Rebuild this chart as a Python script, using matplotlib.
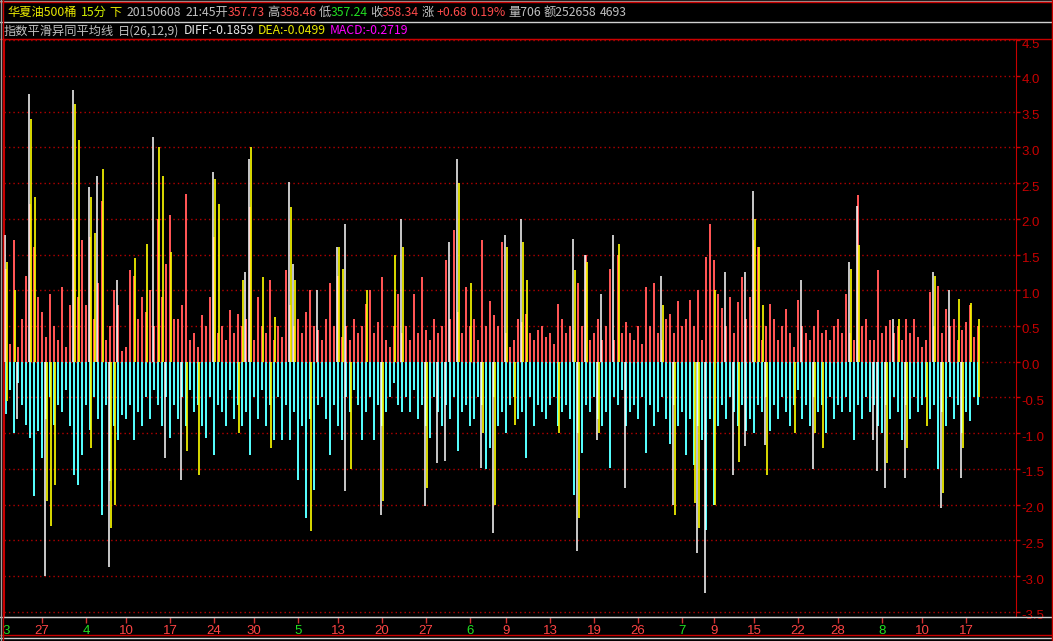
import numpy as np
import matplotlib
matplotlib.use("Agg")
import matplotlib.pyplot as plt
from matplotlib.lines import Line2D
from matplotlib.transforms import IdentityTransform, ScaledTranslation

# MACD histogram, one bar per slot (positive part red, negative part cyan)
red = [
    1.3, 0.25, 1.7, 0.2, 0.6, 1.2, 2.2, 1.6, 0.9, 0.7,
    0.35, 0.95, 0.5, 0.3, 1.05, 0.2, 0.8, 2.0, 0.9, 1.7,
    0.8, 1.75, 0.6, 1.1, 2.25, 0.3, 0.5, 1.0, 0.8, 0.15,
    0.2, 1.28, 1.2, 0.6, 0.9, 0.7, 1.0, 0.5, 2.0, 0.9,
    1.37, 2.05, 0.6, 0.6, 0.8, 2.35, 0.3, 0.4, 0.2, 0.65,
    0.5, 0.9, 1.75, 0.4, 0.5, 0.3, 0.72, 0.4, 0.67, 0.5,
    0.6, 2.17, 0.3, 0.9, 0.5, 0.4, 1.14, 0.3, 0.5, 0.35,
    1.28, 0.8, 0.5, 0.6, 0.4, 0.7, 1.0, 0.5, 0.45, 0.3,
    0.6, 1.1, 0.5, 1.2, 0.35, 0.5, 0.3, 0.6, 0.4, 0.5,
    0.81, 1.0, 0.4, 0.55, 1.18, 0.3, 0.2, 0.5, 0.95, 0.4,
    0.5, 0.3, 0.95, 0.4, 1.18, 0.45, 0.3, 0.6, 0.4, 0.5,
    1.42, 0.6, 1.84, 0.7, 0.4, 1.04, 0.5, 0.6, 0.3, 1.7,
    0.5, 0.85, 0.65, 0.5, 1.68, 0.4, 0.2, 0.3, 0.6, 0.55,
    0.67, 0.4, 0.3, 0.45, 0.5, 0.35, 0.4, 0.25, 0.81, 0.6,
    0.4, 0.5, 0.45, 1.1, 0.5, 1.5, 0.3, 0.4, 0.6, 0.3,
    0.5, 1.3, 0.3, 1.5, 0.4, 0.55, 0.4, 0.3, 0.5, 0.25,
    1.04, 0.5, 1.1, 0.4, 0.3, 0.6, 0.67, 0.4, 0.85, 0.5,
    0.6, 0.87, 0.5, 1.0, 0.3, 1.47, 1.93, 1.42, 0.95, 0.75,
    0.5, 0.9, 0.4, 0.83, 1.18, 0.6, 0.9, 1.7, 1.6, 0.3,
    0.5, 0.81, 0.6, 0.3, 0.5, 0.74, 0.4, 0.2, 0.87, 0.5,
    0.4, 0.3, 0.5, 0.72, 0.4, 0.45, 0.3, 0.5, 0.6, 0.4,
    0.95, 0.4, 0.3, 2.33, 0.5, 0.6, 0.3, 0.3, 1.29, 0.4,
    0.5, 0.58, 0.4, 0.5, 0.3, 0.6, 0.4, 0.6, 0.35, 0.2,
    0.3, 0.97, 0.5, 1.06, 0.4, 0.74, 0.5, 0.6, 0.3, 0.45,
    0.56, 0.8, 0.35, 0.5,
]
cyan = [
    -0.73, -0.4, -1.0, -0.3, -0.6, -0.88, -1.06, -1.88, -0.97, -1.34,
    -0.8, -0.5, -0.88, -0.6, -0.7, -0.4, -0.9, -1.58, -1.72, -1.3,
    -0.6, -0.95, -0.5, -0.8, -2.14, -0.6, -1.67, -0.9, -1.1, -0.75,
    -0.8, -0.6, -1.1, -0.7, -0.9, -0.5, -0.8, -0.4, -0.6, -0.9,
    -0.5, -1.06, -0.6, -0.8, -0.5, -0.9, -0.4, -0.7, -0.6, -0.9,
    -1.06, -0.5, -1.3, -0.6, -0.7, -0.9, -0.4, -0.8, -0.6, -0.9,
    -0.7, -1.3, -0.5, -0.8, -0.4, -0.9, -0.6, -1.1, -0.5, -1.1,
    -0.6, -1.1, -0.7, -1.65, -0.9, -2.19, -0.8, -1.8, -0.6, -0.5,
    -0.8, -1.3, -0.6, -0.9, -1.1, -0.5, -0.7, -0.4, -0.6, -1.1,
    -0.7, -0.5, -1.1, -0.6, -0.9, -0.7, -0.5, -0.3, -0.6, -0.7,
    -0.5, -0.7, -0.4, -0.8, -0.6, -0.9, -1.06, -0.5, -0.7, -0.9,
    -0.6, -0.8, -0.5, -1.25, -0.7, -0.6, -0.9, -0.8, -0.5, -0.6,
    -1.5, -1.2, -0.5, -0.9, -0.7, -1.0, -0.6, -0.5, -0.8, -0.7,
    -1.34, -0.5, -0.9, -0.6, -0.7, -0.8, -0.6, -0.5, -0.9, -0.7,
    -0.6, -0.8, -1.86, -1.0, -1.27, -0.6, -0.7, -0.5, -0.8, -0.9,
    -0.7, -1.48, -0.5, -0.6, -0.4, -0.9, -0.7, -0.6, -0.8, -0.5,
    -1.27, -0.6, -0.9, -0.7, -0.5, -0.8, -1.15, -0.6, -0.9, -0.7,
    -1.3, -0.8, -1.44, -0.9, -1.1, -2.35, -0.8, -2.0, -0.9, -0.6,
    -0.8, -0.5, -0.7, -0.9, -0.6, -0.97, -0.8, -1.0, -0.6, -0.7,
    -0.5, -0.97, -0.6, -0.8, -0.5, -0.7, -0.9, -0.6, -0.4, -0.8,
    -0.6, -0.9, -0.5, -0.7, -0.6, -1.0, -0.5, -0.8, -0.6, -0.7,
    -0.5, -0.7, -1.1, -0.6, -0.8, -0.5, -0.7, -0.6, -0.9, -1.0,
    -0.6, -0.8, -0.5, -0.7, -1.1, -0.6, -0.8, -0.5, -0.7, -0.6,
    -0.5, -0.8, -0.6, -1.5, -0.7, -0.9, -0.5, -0.8, -0.6, -1.0,
    -0.7, -0.83, -0.5, -0.6,
]

# DEA (yellow) and DIFF (white) strokes: slot index and value
dea_up_idx = [0, 2, 6, 7, 17, 18, 21, 22, 24, 32, 35, 38, 39, 41, 52, 53, 59, 61, 64, 67,
              71, 72, 83, 84, 90, 97, 99, 113, 116, 125, 129, 130, 142, 145, 153, 164, 177,
              187, 188, 189, 211, 213, 223, 232, 238, 241, 243]
dea_up_val = [1.4, 1.0, 3.4, 2.3, 3.6, 3.1, 2.3, 1.8, 2.7, 1.45, 1.65, 3.0, 2.6, 1.54, 2.55,
              2.2, 1.14, 3.0, 1.18, 0.62, 2.17, 1.14, 1.6, 1.3, 1.0, 1.5, 1.6, 2.5, 1.1, 1.6,
              1.68, 1.14, 1.28, 1.4, 1.65, 0.8, 1.0, 2.0, 1.6, 0.8, 1.3, 1.63, 0.6, 1.2, 0.88,
              0.82, 0.6]
dea_dn_idx = [0, 10, 11, 12, 21, 26, 27, 45, 48, 58, 66, 76, 86, 94, 105, 119, 122, 127, 138,
              143, 148, 167, 172, 173, 177, 183, 190, 197, 202, 204, 220, 225, 230, 234, 239, 243]
dea_dn_val = [-0.55, -1.95, -2.3, -1.72, -1.2, -2.33, -2.0, -1.25, -1.58, -1.0, -1.2, -2.37,
              -1.5, -1.95, -1.77, -1.0, -2.0, -0.88, -1.0, -2.19, -1.0, -2.14, -1.98, -2.33,
              -2.0, -1.4, -1.58, -1.0, -1.0, -1.2, -1.41, -1.2, -0.9, -1.84, -1.2, -0.5]
diff_up_idx = [0, 6, 17, 21, 23, 28, 37, 52, 60, 61, 71, 72, 78, 83, 85, 99, 111, 113, 125,
               129, 142, 145, 149, 152, 164, 180, 185, 187, 199, 211, 213, 222, 232, 236]
diff_up_val = [1.77, 3.75, 3.8, 2.45, 2.6, 1.14, 3.15, 2.65, 1.25, 2.84, 2.52, 1.37, 1.0, 1.6,
               1.93, 2.0, 1.68, 2.84, 1.77, 2.0, 1.72, 1.5, 0.95, 1.77, 1.2, 1.25, 1.25, 2.39,
               1.15, 1.4, 2.18, 0.6, 1.26, 1.0]
diff_dn_idx = [3, 10, 26, 40, 44, 85, 94, 105, 108, 110, 119, 122, 143, 148, 155, 167, 173,
               175, 182, 185, 190, 202, 217, 218, 220, 225, 234, 239]
diff_dn_val = [-0.8, -3.0, -2.87, -1.34, -1.65, -1.81, -2.14, -2.02, -1.41, -1.39, -1.48, -2.4,
               -2.65, -1.09, -1.76, -2.0, -2.68, -3.24, -1.58, -1.18, -1.16, -1.5, -1.1, -1.53,
               -1.77, -1.63, -2.05, -1.63]

# date axis
tick_pos = [0, 9, 20, 30, 41, 52, 62, 73, 83, 94, 105, 116, 125, 136, 147, 158, 169, 177,
            187, 198, 208, 219, 229, 240]
tick_lab = ['3', '27', '4', '10', '17', '24', '30', '5', '13', '20', '27', '6', '9', '13',
            '19', '26', '7', '9', '15', '22', '28', '8', '10', '17']
month_pos = [0, 20, 73, 116, 169, 219]
y_ticks = [-3.5, -3.0, -2.5, -2.0, -1.5, -1.0, -0.5, 0.0, 0.5, 1.0, 1.5, 2.0, 2.5, 3.0, 3.5, 4.0, 4.5]

CJK = ['Noto Sans CJK SC', 'DejaVu Sans']
RED = '#ff4b4b'
GRAY = '#c0c0c0'
YEL = '#e8e800'
GREEN = '#22e022'
AXRED = '#c80000'

W, H = 1053, 641
fig = plt.figure(figsize=(W / 100, H / 100), dpi=100, facecolor='black')
ax = fig.add_axes([4 / W, 24 / H, 1012 / W, 578 / H], facecolor='black')

idx = np.arange(len(red))
ax.bar(idx, red, width=0.65, color='#ff5454', linewidth=0, zorder=2)
ax.bar(idx, cyan, width=0.65, color='#54fcfc', linewidth=0, zorder=2)
ax.vlines(np.array(diff_up_idx) - 0.22, 0, diff_up_val, color='white', lw=1.1, zorder=3)
ax.vlines(np.array(diff_dn_idx) - 0.22, 0, diff_dn_val, color='white', lw=1.1, zorder=3)
ax.vlines(np.array(dea_up_idx) + 0.22, 0, dea_up_val, color='#ffff00', lw=1.2, zorder=4)
ax.vlines(np.array(dea_dn_idx) + 0.22, 0, dea_dn_val, color='#ffff00', lw=1.2, zorder=4)

for v in y_ticks:
    ax.axhline(v, color='#b40000', lw=1, ls=(0, (1, 2.2)), zorder=1)

ax.set_xlim(-0.5, 252.5)
ax.set_ylim(-3.571, 4.515)

for s in ['left', 'top', 'right']:
    ax.spines[s].set_color(AXRED)
ax.spines['bottom'].set_color('#d0d0d0')

ax.yaxis.tick_right()
ax.set_yticks(y_ticks)
ax.set_yticklabels([f'{v:.1f}' for v in y_ticks], family='Liberation Sans')
ax.tick_params(axis='y', colors=AXRED, labelsize=9.5, length=3, width=1, pad=1)
shift = ScaledTranslation(0, -3 / 100, fig.dpi_scale_trans)
for lab in ax.get_yticklabels():
    lab.set_transform(lab.get_transform() + shift)

ax.set_xticks(tick_pos)
ax.set_xticklabels(tick_lab, family='Liberation Sans')
ax.tick_params(axis='x', colors='#d03030', labelsize=9.5, length=4, width=1, pad=1.5)
for lab, p in zip(ax.get_xticklabels(), tick_pos):
    lab.set_color(GREEN if p in month_pos else '#ff4444')
ax.xaxis.get_major_ticks()[0].tick1line.set_visible(False)

# frame lines (pixel coords, origin bottom left)
ident = IdentityTransform()


def hline(y_img, color, x0=0, x1=W):
    fig.add_artist(Line2D([x0, x1], [H - y_img, H - y_img], color=color, lw=1, transform=ident))


def vline(x, color, y0=0, y1=H):
    fig.add_artist(Line2D([x, x], [H - y0, H - y1], color=color, lw=1, transform=ident))


hline(0.5, '#a0a0a0')
hline(2, AXRED)
hline(21.5, '#d0d0d0')
hline(39, AXRED)
hline(617, '#d0d0d0')
hline(635, AXRED)
hline(637.5, '#d0d0d0')
vline(0.5, '#a0a0a0')
vline(2.5, AXRED)
vline(1051.5, AXRED)

renderer = fig.canvas.get_renderer()


def header(x, y_img, parts, size):
    # parts: (gap before, text, colour); texts laid out one after another
    for gap, s, c in parts:
        x += gap
        t = fig.text(x, H - y_img, s, color=c, fontsize=size, family=CJK,
                     va='center', ha='left', transform=ident)
        x += t.get_window_extent(renderer).width


line1 = [(0, '华夏油500桶', YEL), (4, '15分', '#d0f000'), (3, '下', YEL),
         (5, '20150608', GRAY), (4, '21:45开', GRAY), (0, '357.73', RED),
         (2, '高', GRAY), (0, '358.46', RED), (2, '低', GRAY), (0, '357.24', GREEN),
         (2, '收', GRAY), (0, '358.34', RED), (2, '涨', GRAY), (3, '+0.68', RED),
         (3, '0.19%', RED), (3, '量706', GRAY), (3, '额252658', GRAY), (3, '4693', GRAY)]
header(7, 12.5, line1, 8.8)

line2 = [(0, '指数平滑异同平均线', GRAY), (4, '日(26,12,9)', GRAY),
         (4, 'DIFF:-0.1859', '#e8e8e8'), (4, 'DEA:-0.0499', YEL),
         (4, 'MACD:-0.2719', '#ff00ff')]
header(4, 31, line2, 8.8)

fig.savefig('out.png', dpi=100, facecolor='black')
